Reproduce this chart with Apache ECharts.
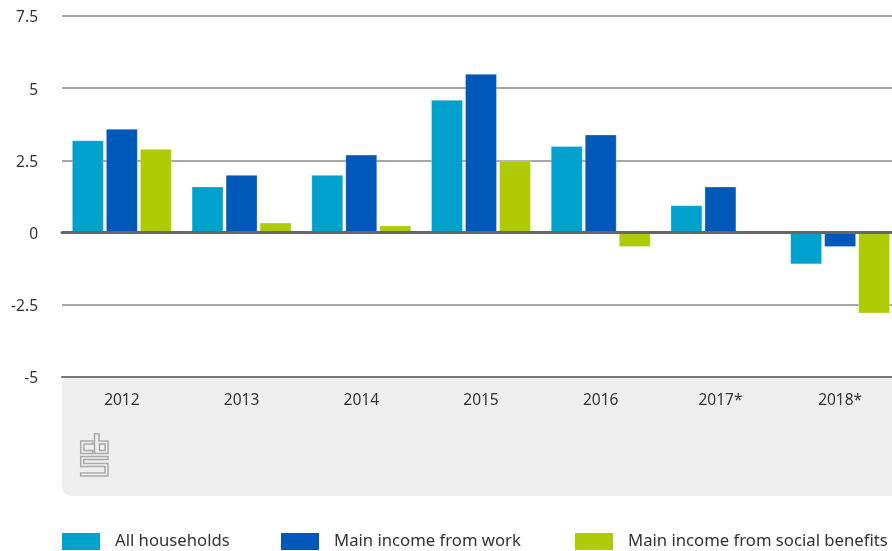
<!DOCTYPE html>
<html>
<head>
<meta charset="utf-8">
<style>html,body{margin:0;padding:0;background:#fff}#c{width:892px;height:551px}</style>
<script src="https://cdn.jsdelivr.net/npm/echarts@6/dist/echarts.min.js"></script>
</head>
<body>
<div id="c"></div>
<script>
var categories = ['2012','2013','2014','2015','2016','2017*','2018*'];
var allHouseholds = [3.2,1.6,2.0,4.6,3.0,0.95,-1.1];
var mainIncomeWork = [3.6,2.0,2.7,5.5,3.4,1.6,-0.5];
var mainIncomeSocial = [2.9,0.35,0.25,2.5,-0.5,null,-2.8];
var seriesNames = ['All households','Main income from work','Main income from social benefits'];
var seriesColors = ['#00a1cd','#0058b8','#afcb05'];
var FONT = '"Noto Sans", sans-serif';

var chart = echarts.init(document.getElementById('c'), null, {renderer:'canvas'});
function bar(name, data, color){
  return {name:name, type:'bar', data:data, xAxisIndex:0, yAxisIndex:0,
    barWidth:32, barGap:'6.25%', z:2,
    itemStyle:{color:color, borderColor:'rgba(255,255,255,0.3)', borderWidth:1}};
}
function legendFor(i, left){
  return {
    left:left, top:533, padding:0, itemWidth:38, itemHeight:17,
    icon:'rect', selectedMode:false, data:[seriesNames[i]],
    itemStyle:{borderWidth:0},
    textStyle:{color:'#333', fontSize:16.7, padding:[2,0,0,10], fontFamily:FONT}
  };
}
var logoLine = {stroke:'#a9a9a9', lineWidth:1.5, fill:'none'};
function logoPoly(points){
  return {type:'polygon', silent:true, shape:{points:points}, style:logoLine};
}
chart.setOption({
  animation:false,
  backgroundColor:'#fff',
  textStyle:{fontFamily:FONT},
  grid:{left:62, top:16, width:838, height:361, containLabel:false, outerBoundsMode:'none'},
  xAxis:[{
    type:'category', data:categories, position:'bottom',
    axisLine:{onZero:false, lineStyle:{color:'#777', width:2}},
    axisTick:{show:false},
    axisLabel:{color:'#333', fontSize:15.5, margin:16, fontFamily:FONT},
    z:5
  },{
    type:'category', data:categories, position:'bottom',
    axisLine:{onZero:true, lineStyle:{color:'#666', width:3}},
    axisTick:{show:false}, axisLabel:{show:false}, z:5
  }],
  yAxis:{
    type:'value', min:-5, max:7.5, interval:2.5,
    axisLine:{show:false}, axisTick:{show:false},
    axisLabel:{color:'#333', fontSize:15.5, margin:24, verticalAlign:'top', lineHeight:4, fontFamily:FONT},
    splitLine:{lineStyle:{color:'#a6a6a6', width:2}}
  },
  legend:[legendFor(0,62), legendFor(1,281), legendFor(2,575)],
  series:[
    bar(seriesNames[0], allHouseholds, seriesColors[0]),
    bar(seriesNames[1], mainIncomeWork, seriesColors[1]),
    bar(seriesNames[2], mainIncomeSocial, seriesColors[2])
  ],
  graphic:[
    {type:'rect', z:-10, silent:true, shape:{x:62,y:377,width:840,height:119,r:[0,0,0,9]}, style:{fill:'#eeeeee'}},
    {type:'group', z:-5, silent:true, x:80, y:433, children:[
      logoPoly([[0.7,8],[13,8],[13,11],[4,11],[4,17.5],[13,17.5],[13,20.5],[0.7,20.5]]),
      logoPoly([[14.5,0.7],[19,0.7],[19,8],[28,8],[28,20.5],[14.5,20.5]]),
      logoPoly([[19.5,11],[25,11],[25,17.5],[19.5,17.5]]),
      logoPoly([[0.7,23.5],[28,23.5],[28,26.5],[3.7,26.5],[3.7,30.5],[28,30.5],[28,43],[0.7,43],[0.7,40],[25,40],[25,33.5],[0.7,33.5]])
    ]}
  ]
});
</script>
</body>
</html>
